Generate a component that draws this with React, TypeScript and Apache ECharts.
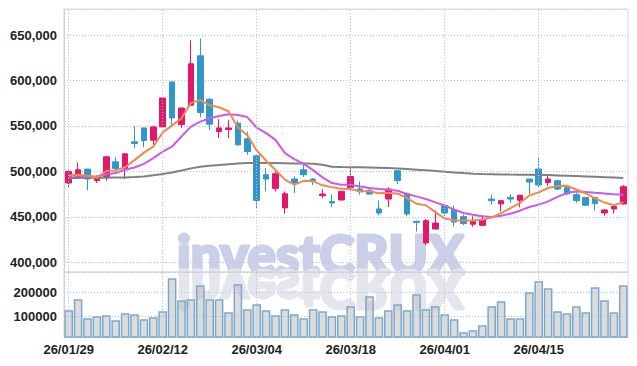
import React, { useEffect, useRef } from 'react';
import * as echarts from 'echarts';

const dates = ['26/01/29','26/01/30','26/02/02','26/02/03','26/02/04','26/02/05','26/02/06','26/02/09','26/02/10','26/02/11','26/02/12','26/02/13','26/02/19','26/02/20','26/02/23','26/02/24','26/02/25','26/02/26','26/02/27','26/03/03','26/03/04','26/03/05','26/03/06','26/03/09','26/03/10','26/03/11','26/03/12','26/03/13','26/03/16','26/03/17','26/03/18','26/03/19','26/03/20','26/03/23','26/03/24','26/03/25','26/03/26','26/03/27','26/03/30','26/03/31','26/04/01','26/04/02','26/04/03','26/04/06','26/04/07','26/04/08','26/04/09','26/04/10','26/04/13','26/04/14','26/04/15','26/04/16','26/04/17','26/04/20','26/04/21','26/04/22','26/04/23','26/04/24','26/04/27','26/04/28'];

const opens = [487300,492800,502600,490100,494500,510600,503300,532600,547900,534400,549000,598400,551500,572800,627200,579400,543900,546100,553100,535900,517200,496400,481400,459900,491700,501900,491700,473400,467100,468700,482500,480700,478800,458800,469700,500800,475500,445200,421500,436700,462400,458000,450300,442000,440800,469700,464300,471500,468400,491700,502700,487900,489800,482100,474500,471500,471500,454400,458800,464300];
const closes = [500000,501900,491700,492800,516100,503300,519400,530700,534000,549000,580800,558900,569800,618400,564700,552000,547900,547900,529300,521900,468200,491700,497500,475500,487300,496400,489800,475200,465400,478100,494500,477700,475200,454400,480700,490100,453300,444100,445900,443300,454400,444500,442700,444900,447400,467900,467900,469700,473900,488400,485100,491700,480700,475500,467900,463000,464700,457700,461600,483300];
const lows = [481800,492000,479400,487300,489800,498900,491700,525700,526800,527400,548500,551200,547600,572000,559700,545700,536600,536600,528200,518300,459600,478100,478100,453600,476300,493900,485100,470500,460700,468000,478100,474500,474500,451800,461000,486200,450700,434000,418800,436700,450700,439700,440900,439100,440500,463500,456100,465400,460700,475200,482600,484300,479600,473700,465400,462000,457200,451400,453600,463500];
const highs = [501000,509900,502600,495600,517200,515800,520000,549800,548000,550400,581000,598500,570000,644400,646300,580500,557500,556700,556000,543900,517500,503700,500000,478100,494500,508400,492800,480400,474500,478800,503700,489000,480700,468200,482500,501000,477000,446000,447800,457200,463500,462400,452500,450700,451400,474500,468000,475000,474000,492000,515800,497200,490900,483600,476300,471500,471600,458800,464300,485100];

const ma5 = [495600,496400,495300,493300,500500,501200,504700,512500,520700,527300,542800,550700,558500,575400,578500,572800,570600,566200,548400,539800,523000,511800,501700,491000,485500,489700,489300,484800,482800,481000,480600,478200,478200,476000,476500,475600,470700,464500,462800,455300,448200,446400,446200,446000,446800,449500,454200,459600,465400,473600,477000,481800,484000,484300,480200,475800,470400,465800,463000,466100];
const ma20 = [495300,495600,494500,494500,496700,498200,501900,504400,508400,514700,521900,527400,538400,549300,554800,558500,561000,562900,562100,559800,548200,542100,534800,520200,513600,508400,501500,493500,487300,485400,485400,483600,481800,480700,479900,478800,475000,472600,469700,466000,462600,458000,454400,452500,450700,450000,451400,453600,456900,460900,463500,467100,472000,476500,478000,477500,476500,475800,475000,474300];
const ma60 = [492800,492900,493000,493100,493200,493300,493400,493800,494500,495800,497100,498900,501100,503400,505100,506200,507200,508000,508700,509200,509400,509400,509300,509100,508900,508700,508400,507500,505200,504800,504700,504600,504400,504100,503700,503200,502700,502000,501300,500600,499800,499000,498200,497500,497200,497000,496800,496600,496500,496400,496200,496000,495700,495300,494900,494500,494100,493700,493300,492900];

const volumes = [125000,170800,91700,100000,104200,83300,112500,108300,87500,95800,120800,258300,166700,170800,229200,170800,170800,116700,233300,129200,150000,125000,104200,129200,108300,91700,129200,120800,100000,104200,141700,100000,183300,95800,125000,150000,125000,191700,129200,141700,108300,87500,33300,41700,62500,141700,162500,91700,91700,200000,245800,216700,120800,112500,141700,116700,220800,166700,116700,229200];

const labelDates = ['26/01/29','26/02/12','26/03/04','26/03/18','26/04/01','26/04/15'];
const watermark = 'investCRUX';

export default function App() {
  const ref = useRef<HTMLDivElement>(null);
  useEffect(() => {
    const chart = echarts.init(ref.current as HTMLDivElement, null, { renderer: 'svg' });
    const font = "'Liberation Sans', Arial, sans-serif";
    const wmFont = '900 53px Lato, "Liberation Sans", Arial, sans-serif';
    const gridColor = '#bcc4da';
    const red = '#e3176c';
    const blue = '#2f97c9';
    const candleData = dates.map((_, i) => [opens[i], closes[i], lows[i], highs[i]]);
    const vLine = (xi: number, yi: number) => ({
      type: 'line', xAxisIndex: xi, yAxisIndex: yi, data: dates.map(() => null), z: 1, silent: true,
      showSymbol: false,
      markLine: {
        silent: true, symbol: ['none', 'none'], label: { show: false },
        lineStyle: { type: [1, 2], color: gridColor, width: 1 },
        emphasis: { disabled: true },
        data: labelDates.map((d) => ({ xAxis: d })),
      },
    });
    const labelStyle = { color: '#222', fontFamily: font, fontSize: 13, fontWeight: 'bold' as const };
    chart.setOption({
      animation: false,
      backgroundColor: '#ffffff',
      grid: [
        { left: 64, right: 9, top: 9, height: 263, show: true, borderColor: '#d6d6d6', borderWidth: 1 },
        { left: 64, right: 9, top: 272, height: 65, show: true, borderColor: '#d6d6d6', borderWidth: 1 },
      ],
      xAxis: [
        { type: 'category', data: dates, gridIndex: 0, boundaryGap: true, axisLine: { show: false }, axisTick: { show: false }, axisLabel: { show: false }, splitLine: { show: false } },
        { type: 'category', data: dates, gridIndex: 1, boundaryGap: true, axisLine: { show: true, lineStyle: { color: '#cfcfcf' } }, axisTick: { show: false }, axisLabel: { ...labelStyle, interval: 9, margin: 6 }, splitLine: { show: false } },
      ],
      yAxis: [
        {
          type: 'value', gridIndex: 0, scale: true,
          min: (v: any) => v.min * 0.93, max: (v: any) => v.max * 1.05,
          axisLine: { show: true, lineStyle: { color: '#d0d0d0' } }, axisTick: { show: false },
          axisLabel: { ...labelStyle, margin: 7, showMinLabel: false, showMaxLabel: false, formatter: (v: number) => v.toLocaleString('en-US') },
          splitLine: { lineStyle: { type: [1, 2], color: gridColor } },
        },
        {
          type: 'value', gridIndex: 1, splitNumber: 2,
          min: (v: any) => v.min * 0.4, max: (v: any) => v.max * 1.1,
          axisLine: { show: true, lineStyle: { color: '#d0d0d0' } }, axisTick: { show: false },
          axisLabel: { ...labelStyle, margin: 7, showMinLabel: false, showMaxLabel: false, formatter: (v: number) => String(v) },
          splitLine: { lineStyle: { type: [1, 2], color: gridColor } },
        },
      ],
      graphic: [
        {
          type: 'text', z: -10, silent: true, x: 177, y: 253.6, scaleX: 1.0,
          style: { text: watermark, font: wmFont, fill: 'rgb(202,208,231)', stroke: 'rgb(202,208,231)', lineWidth: 3, verticalAlign: 'middle' },
        },
        {
          type: 'group', z: -10, silent: true, x: 0, y: 544, scaleY: -1,
          children: [
            {
              type: 'text', z: -10, silent: true, x: 177, y: 253.6, scaleX: 1.0,
              style: { text: watermark, font: wmFont, fill: 'rgb(229,229,237)', stroke: 'rgb(229,229,237)', lineWidth: 3, verticalAlign: 'middle' },
            },
          ],
        },
      ],
      series: [
        vLine(0, 0),
        vLine(1, 1),
        {
          type: 'candlestick', xAxisIndex: 0, yAxisIndex: 0, data: candleData, barWidth: 6, z: 3,
          itemStyle: { color: red, color0: blue, borderColor: red, borderColor0: blue, borderWidth: 1 },
        },
        { type: 'line', xAxisIndex: 0, yAxisIndex: 0, data: ma60, showSymbol: false, symbol: 'none', z: 4, lineStyle: { color: '#808080', width: 2 } },
        { type: 'line', xAxisIndex: 0, yAxisIndex: 0, data: ma20, showSymbol: false, symbol: 'none', z: 4, lineStyle: { color: '#cc5ae9', width: 2 } },
        { type: 'line', xAxisIndex: 0, yAxisIndex: 0, data: ma5, showSymbol: false, symbol: 'none', z: 4, lineStyle: { color: '#ef8a4f', width: 2 } },
        {
          type: 'bar', xAxisIndex: 1, yAxisIndex: 1, data: volumes, barCategoryGap: '8%',
          itemStyle: { color: 'rgba(185,185,185,0.5)', borderColor: '#7ba9cd', borderWidth: 1.5 },
        },
      ],
    });
    return () => chart.dispose();
  }, []);
  return <div ref={ref} style={{ position: 'absolute', left: 0, top: 0, width: 637, height: 366 }} />;
}
